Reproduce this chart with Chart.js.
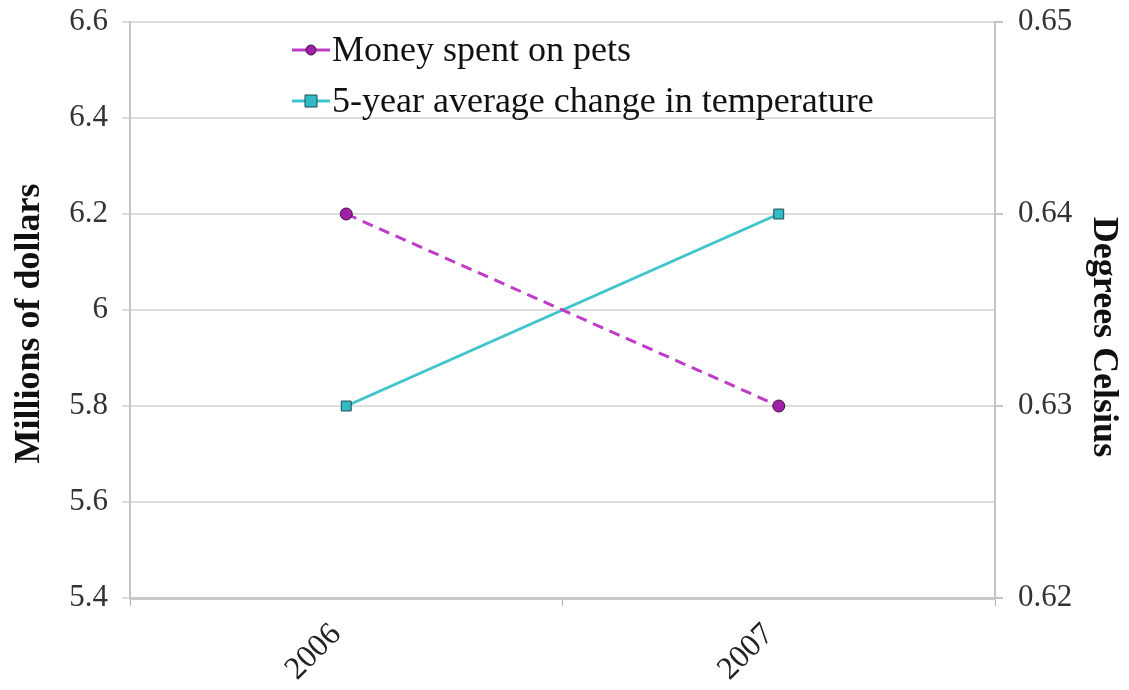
<!DOCTYPE html>
<html>
<head>
    <title>Money spent on pets vs temperature</title>
    <meta charset="utf-8">
    <script src="https://cdn.jsdelivr.net/npm/chart.js@4.4.0/dist/chart.umd.min.js"></script>
    <style>
        html, body { margin: 0; padding: 0; background: #fff; }
        .chart-container { position: relative; width: 1129px; height: 690px; }
    </style>
</head>
<body>
    <div class="chart-container">
        <canvas id="chart"></canvas>
    </div>

    <script>
        // Datos
        const years = ['2006', '2007'];
        const petMoney = [6.2, 5.8];
        const tempChange = [0.63, 0.64];
        const leftTicks = [5.4, 6.6, 0.2];   // min, max, step
        const rightTicks = [0.62, 0.65, 0.01];

        const serif = '"Liberation Serif", "Times New Roman", serif';

        // Leyenda dibujada dentro del area del grafico
        const insideLegend = {
            id: 'insideLegend',
            afterDatasetsDraw(chart) {
                const ctx = chart.ctx;
                const x0 = 292, rows = [50, 101];
                chart.data.datasets.forEach((ds, i) => {
                    const y = rows[i];
                    ctx.save();
                    ctx.strokeStyle = ds.borderColor;
                    ctx.lineWidth = 3;
                    ctx.beginPath();
                    ctx.moveTo(x0, y);
                    ctx.lineTo(x0 + 38, y);
                    ctx.stroke();
                    ctx.fillStyle = ds.pointBackgroundColor;
                    ctx.strokeStyle = ds.pointBorderColor;
                    ctx.lineWidth = 1;
                    ctx.beginPath();
                    if (ds.pointStyle === 'rect') {
                        ctx.rect(x0 + 13, y - 6, 12, 12);
                    } else {
                        ctx.arc(x0 + 19, y, 5, 0, Math.PI * 2);
                    }
                    ctx.fill();
                    ctx.stroke();
                    ctx.fillStyle = '#111';
                    ctx.font = '36px ' + serif;
                    ctx.textBaseline = 'middle';
                    ctx.fillText(ds.label, x0 + 40, y + 2);
                    ctx.restore();
                });
            }
        };

        const ctx = document.getElementById('chart').getContext('2d');
        new Chart(ctx, {
            type: 'line',
            data: {
                labels: years,
                datasets: [{
                    label: 'Money spent on pets',
                    data: petMoney,
                    yAxisID: 'y',
                    borderColor: '#c03cc8',
                    borderWidth: 3,
                    borderDash: [11, 7],
                    pointStyle: 'circle',
                    pointRadius: 6,
                    pointBackgroundColor: '#a020a8',
                    pointBorderColor: '#401040',
                    pointBorderWidth: 1
                }, {
                    label: '5-year average change in temperature',
                    data: tempChange,
                    yAxisID: 'y1',
                    borderColor: '#40c4cc',
                    borderWidth: 3,
                    pointStyle: 'rect',
                    pointRadius: 7,
                    pointBackgroundColor: '#30bcc4',
                    pointBorderColor: '#204850',
                    pointBorderWidth: 1
                }]
            },
            options: {
                responsive: true,
                maintainAspectRatio: false,
                animation: false,
                layout: { padding: { top: 22, left: 0, right: 0, bottom: 0 } },
                plugins: {
                    legend: { display: false },
                    tooltip: { enabled: false }
                },
                scales: {
                    x: {
                        offset: true,
                        grid: {
                            offset: true,
                            drawOnChartArea: false,
                            color: '#b0b0b0',
                            tickLength: 8
                        },
                        border: { color: '#c8c8c8', width: 3 },
                        ticks: {
                            font: { family: serif, size: 32 },
                            color: '#222',
                            minRotation: 45,
                            maxRotation: 45,
                            padding: 10,
                            labelOffset: -10
                        },
                        afterFit(scale) { scale.height = 92; }
                    },
                    y: {
                        position: 'left',
                        min: leftTicks[0],
                        max: leftTicks[1],
                        ticks: {
                            stepSize: leftTicks[2],
                            font: { family: serif, size: 31 },
                            color: '#333',
                            padding: 14,
                            callback: v => String(Number(v.toFixed(1)))
                        },
                        grid: { color: '#dedede', lineWidth: 2, tickLength: 8 },
                        border: { color: '#c4c4c4', width: 2 },
                        title: {
                            display: true,
                            text: 'Millions of dollars   ',
                            font: { family: serif, size: 36, weight: 'bold' },
                            color: '#111',
                            padding: { top: 8, bottom: 0 }
                        },
                        afterFit(scale) {
                            scale.width = 130;
                            scale.paddingTop = 0;
                            scale.paddingBottom = 0;
                        }
                    },
                    y1: {
                        position: 'right',
                        min: rightTicks[0],
                        max: rightTicks[1],
                        ticks: {
                            stepSize: rightTicks[2],
                            font: { family: serif, size: 31 },
                            color: '#333',
                            padding: 15,
                            callback: v => v.toFixed(2)
                        },
                        grid: { drawOnChartArea: false, color: '#c4c4c4', lineWidth: 2, tickLength: 8 },
                        border: { color: '#c4c4c4', width: 2 },
                        title: {
                            display: true,
                            text: '      Degrees Celsius',
                            font: { family: serif, size: 36, weight: 'bold' },
                            color: '#111',
                            padding: { top: 4, bottom: 0 }
                        },
                        afterFit(scale) {
                            scale.width = 134;
                            scale.paddingTop = 0;
                            scale.paddingBottom = 0;
                        }
                    }
                }
            },
            plugins: [insideLegend]
        });
    </script>
</body>
</html>
